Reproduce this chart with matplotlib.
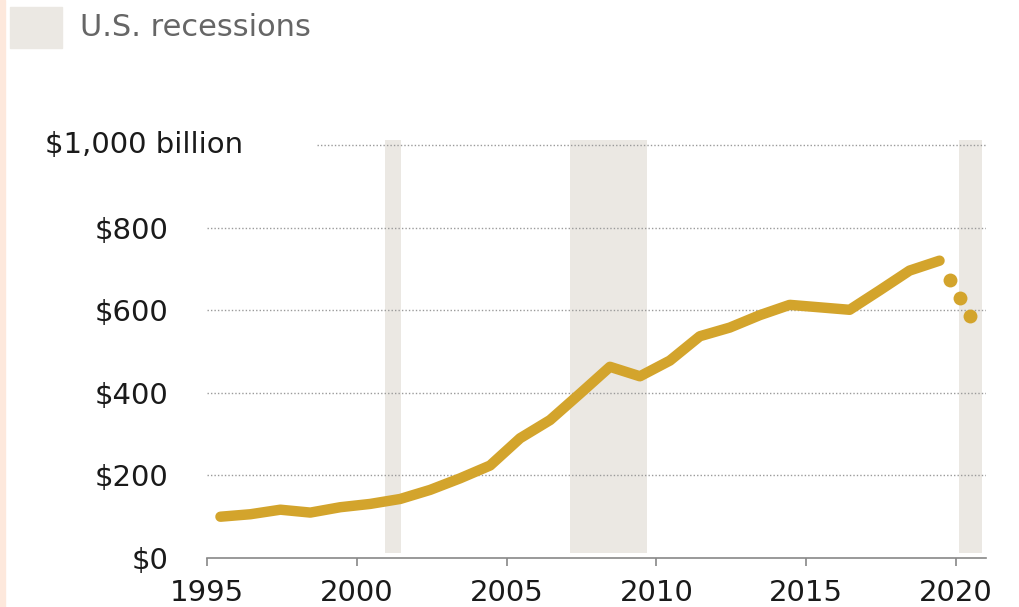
import numpy as np
import matplotlib.pyplot as plt
from matplotlib.patches import Rectangle

plt.rcParams['font.family'] = ['DejaVu Sans']

# fiscal years (plotted at mid-year), billions of dollars
years = np.arange(1995, 2020)
spending = [100, 106, 117, 110, 123, 131, 143, 165, 193, 224, 290, 334, 398,
            463, 440, 478, 537, 558, 588, 613, 607, 601, 648, 696, 720]
# 2020 estimates (dots)
proj_years = [2019.8, 2020.12, 2020.45]
proj_values = [674, 630, 585]
# recession shading (start, end)
recessions = [(2000.95, 2001.47), (2007.12, 2009.68), (2020.09, 2020.87)]

yticks = [0, 200, 400, 600, 800]
ytick_labels = ['$0', '$200', '$400', '$600', '$800']
xticks = [1995, 2000, 2005, 2010, 2015, 2020]

gold = '#d3a42c'
band = '#ebe8e3'

fig = plt.figure(figsize=(10.19, 6.07), dpi=100)
ax = fig.add_axes([0.2031, 0.0807, 0.7645, 0.694])
ax.set_xlim(1995, 2021)
ax.set_ylim(0, 1020)

# recession bands
for a, b in recessions:
    ax.axvspan(a, b, ymin=12/1020, ymax=1012/1020, color=band, lw=0, zorder=0)

# dotted grid
for v in yticks[1:]:
    ax.axhline(v, color='#9a9a9a', lw=1, ls=(0, (1, 1.5)), zorder=1)
ax.axhline(1000, xmin=0.141, color='#9a9a9a', lw=1, ls=(0, (1, 1.5)), zorder=1)

# line + dots
ax.plot(years + 0.45, spending, color=gold, lw=7.5,
        solid_capstyle='round', solid_joinstyle='round', zorder=3)
ax.plot(proj_years, proj_values, 'o', ms=10, color=gold, mec='none', zorder=3)

for s in ['top', 'right', 'left']:
    ax.spines[s].set_visible(False)
ax.spines['bottom'].set_color('#888888')
ax.spines['bottom'].set_linewidth(1.2)

ax.set_xticks(xticks)
ax.set_xticklabels([str(x) for x in xticks])
ax.set_yticks(yticks)
ax.set_yticklabels(ytick_labels)
ax.tick_params(axis='x', length=6, width=1.2, color='#888888', pad=9,
               labelsize=21, labelcolor='#1a1a1a')
ax.tick_params(axis='y', length=0, pad=28, labelsize=21, labelcolor='#1a1a1a')
ax.text(-0.208, 1000, '$1,000 billion', ha='left', va='center',
        fontsize=21, color='#1a1a1a', transform=ax.get_yaxis_transform())

# legend
fig.patches.append(Rectangle((10/1019, 1 - 48/607), 52/1019, 41/607,
                             transform=fig.transFigure, color=band))
fig.text(80/1019, 1 - 27/607, 'U.S. recessions', va='center', fontsize=22,
         color='#666666')

# left edge strip
fig.patches.append(Rectangle((0, 0), 5/1019, 1, transform=fig.transFigure,
                             color='#fde8dc'))

fig.savefig('out.png', dpi=100)
